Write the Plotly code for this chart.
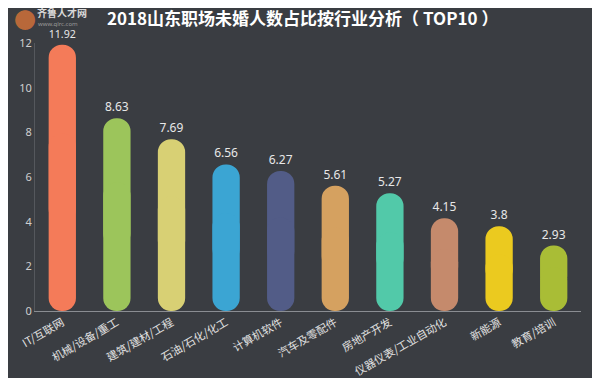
import plotly.graph_objects as go

categories = ["IT/互联网", "机械/设备/重工", "建筑/建材/工程", "石油/石化/化工", "计算机软件",
              "汽车及零配件", "房地产开发", "仪器仪表/工业自动化", "新能源", "教育/培训"]
values = [11.92, 8.63, 7.69, 6.56, 6.27, 5.61, 5.27, 4.15, 3.8, 2.93]
value_labels = ["11.92", "8.63", "7.69", "6.56", "6.27", "5.61", "5.27", "4.15", "3.8", "2.93"]
colors = ["#f47b59", "#9cc55b", "#d8d074", "#3ba5d3", "#525c87",
          "#d5a160", "#52c9a9", "#c58a6c", "#ebca1f", "#a9bd36"]

bg = "#3a3d42"
fig = go.Figure()

# upper part: rounded top
fig.add_trace(go.Bar(
    x=categories, y=[v * 2 / 3 for v in values], base=[v / 3 for v in values],
    marker=dict(color=colors, line=dict(width=0)),
    text=value_labels, textposition="outside", cliponaxis=False,
    textfont=dict(color="#e8e8e8", size=12, family="Noto Sans"),
    hoverinfo="skip", showlegend=False,
))
# lower part: rounded bottom
fig.add_trace(go.Bar(
    x=categories, y=[-v * 2 / 3 for v in values], base=[v * 2 / 3 for v in values],
    marker=dict(color=colors, line=dict(width=0)),
    hoverinfo="skip", showlegend=False,
))

fig.update_layout(
    width=600, height=378,
    paper_bgcolor=bg, plot_bgcolor=bg,
    barmode="overlay", bargap=0.5, barcornerradius="50%",
    margin=dict(l=27, r=27, t=35, b=75, autoexpand=False),
    title=dict(text="<b>2018山东职场未婚人数占比按行业分析（ TOP10 ）</b>",
               x=0.165, xanchor="left", y=0.972, yanchor="middle",
               font=dict(size=17, color="#ffffff", family="Noto Sans CJK SC")),
    font=dict(family="Noto Sans CJK SC", color="#d8d8d8"),
    xaxis=dict(showgrid=False, tickangle=-30, ticks="", automargin=False,
               tickfont=dict(size=11, color="#e0e0e0", family="Noto Sans CJK SC"),
               showline=True, linecolor="#8a8d92", linewidth=1),
    yaxis=dict(range=[0, 12], dtick=2, showgrid=False, zeroline=False, automargin=False,
               showline=True, linecolor="#55585d", linewidth=1,
               ticks="", tickfont=dict(size=11, color="#cfcfcf", family="Noto Sans")),
    annotations=[
        dict(text="●", x=-0.042, y=1.095, xref="paper", yref="paper",
             xanchor="left", yanchor="middle", showarrow=False,
             font=dict(size=22, color="#b8683a")),
        dict(text="<b>齐鲁人才网</b>", x=0.0, y=1.112, xref="paper", yref="paper",
             xanchor="left", yanchor="middle", showarrow=False,
             font=dict(size=10, color="#d8d8d8", family="Noto Sans CJK SC")),
        dict(text="www.qlrc.com", x=0.002, y=1.07, xref="paper", yref="paper",
             xanchor="left", yanchor="middle", showarrow=False,
             font=dict(size=6, color="#9a9a9a", family="Noto Sans")),
    ],
)
fig.write_html("out.html")
